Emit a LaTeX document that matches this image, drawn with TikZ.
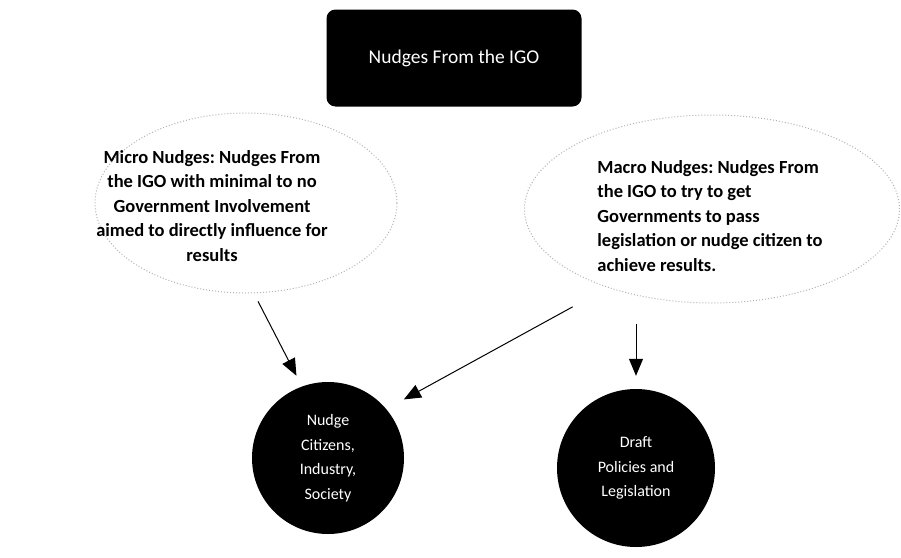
\documentclass[tikz,border=0pt]{standalone}
\usepackage{fontspec}
\setmainfont{Carlito}
\usetikzlibrary{arrows.meta,calc,shapes.geometric}
\frenchspacing
\begin{document}
\begin{tikzpicture}[x=1pt,y=-1pt,
  topbox/.style={fill=black, rounded corners=9pt, minimum width=255pt, minimum height=97pt,
    text=white, font=\fontsize{19.5}{22}\selectfont},
  bubble/.style={ellipse, draw=gray!60, dotted, line width=1pt, fill=white, inner sep=0pt},
  bubbletext/.style={font=\bfseries\fontsize{18.5}{24.5}\selectfont, inner sep=0pt},
  disc/.style={circle, fill=black, text=white, align=center, inner sep=0pt,
    font=\fontsize{16}{24.5}\selectfont},
  arr/.style={-{Triangle[length=17pt,width=14pt]}, line width=1pt}
]
\useasboundingbox (0,0) rectangle (901,557);

\node[topbox] (igo) at (454,58) {Nudges From the IGO};

\node[bubble, minimum width=302pt, minimum height=180pt] (micro) at (246,203) {};
\node[bubbletext, align=center] (microtxt) at (212,206)
  {Micro Nudges: Nudges From\\the IGO with minimal to no\\Government Involvement\\aimed to directly influence for\\results};

\node[bubble, minimum width=375pt, minimum height=188pt] (macro) at (712,209) {};
\node[bubbletext, align=left] (macrotxt) at (710,216)
  {Macro Nudges: Nudges From\\the IGO to try to get\\Governments to pass\\legislation or nudge citizen to\\achieve results.};

\node[disc, minimum size=152pt] (cit) at (328,458) {Nudge\\Citizens,\\Industry,\\Society};
\node[disc, minimum size=158pt] (pol) at (636,468) {Draft\\Policies and\\Legislation};

\draw[arr, shorten <=9pt, shorten >=12pt] (micro.-85) -- (cit.110);
\draw[arr, shorten <=40pt, shorten >=20pt] (macro.217) -- (cit.40);
\draw[arr, shorten <=20pt, shorten >=13pt] (macro.south -| pol.north) -- (pol.north);
\end{tikzpicture}
\end{document}
